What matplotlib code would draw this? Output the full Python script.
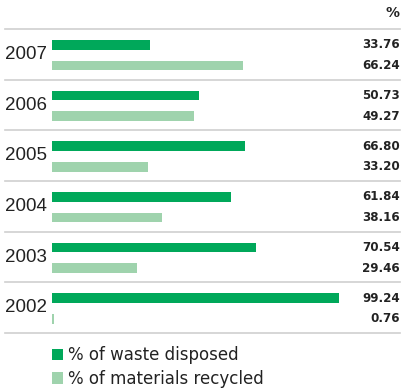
import matplotlib.pyplot as plt
import matplotlib.transforms as mtransforms

years = ['2007', '2006', '2005', '2004', '2003', '2002']
disposed = [33.76, 50.73, 66.80, 61.84, 70.54, 99.24]
recycled = [66.24, 49.27, 33.20, 38.16, 29.46, 0.76]
labels = ['% of waste disposed', '% of materials recycled']

dark = '#00a85a'
light = '#9fd3ad'
ink = '#222222'

W, H = 401, 392
fig = plt.figure(figsize=(W / 100, H / 100), dpi=100)
# axes: x 0..100 spans px 52..341, each year block is 1 unit (~50.7 px)
ax = fig.add_axes([52 / W, (H - 333) / H, 289 / W, 304 / H])
ax.set_xlim(0, 100)
ax.set_ylim(6, 0)
ax.axis('off')

pos = range(len(years))
y1 = [i + 0.31 for i in pos]
y2 = [i + 0.72 for i in pos]
b1 = ax.barh(y1, disposed, height=0.19, color=dark, label=labels[0])
b2 = ax.barh(y2, recycled, height=0.19, color=light, label=labels[1])

# row separators run across the whole width
trans = mtransforms.blended_transform_factory(fig.transFigure, ax.transData)
for b in range(len(years) + 1):
    ax.plot([5 / W, 400 / W], [b, b], color='#cfcfcf', lw=1.2,
            transform=trans, clip_on=False)

for i, yr in enumerate(years):
    ax.text(5 / W, i + 0.5, yr, transform=trans, ha='left', va='center',
            fontsize=13.5, family='Liberation Sans', color=ink)
    ax.text(400 / W, y1[i], '%.2f' % disposed[i], transform=trans,
            ha='right', va='center', fontsize=8.6, fontweight='bold', color=ink)
    ax.text(400 / W, y2[i], '%.2f' % recycled[i], transform=trans,
            ha='right', va='center', fontsize=8.6, fontweight='bold', color=ink)

fig.text(399 / W, 1 - 13 / H, '%', ha='right', va='center', fontsize=10,
         fontweight='bold', color=ink)

fig.legend(handles=[b1, b2], loc='upper left',
           bbox_to_anchor=(52 / W, 1 - 346 / H), frameon=False,
           fontsize=12, handlelength=0.66, handleheight=0.66,
           handletextpad=0.3, labelspacing=0.35, borderaxespad=0,
           borderpad=0, labelcolor=ink)

fig.savefig('out.png', dpi=100)
